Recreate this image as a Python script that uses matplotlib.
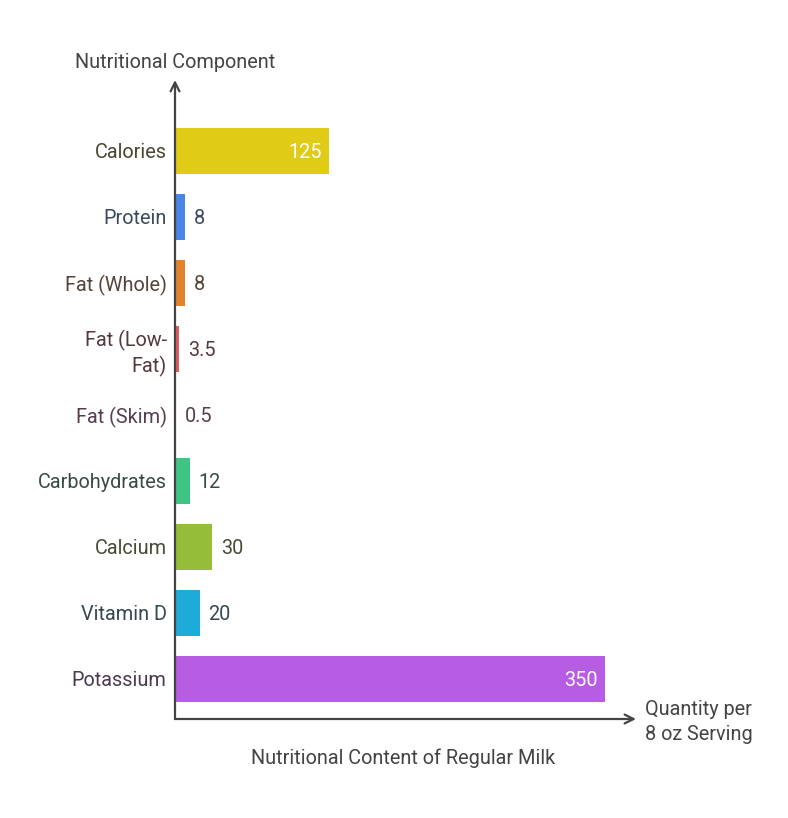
import numpy as np
import matplotlib.pyplot as plt

plt.rcParams['font.family'] = ['Roboto', 'DejaVu Sans']

categories = ['Calories', 'Protein', 'Fat (Whole)', 'Fat (Low-\nFat)', 'Fat (Skim)',
              'Carbohydrates', 'Calcium', 'Vitamin D', 'Potassium']
values = [125, 8, 8, 3.5, 0.5, 12, 30, 20, 350]
value_labels = ['125', '8', '8', '3.5', '0.5', '12', '30', '20', '350']
bar_colors = ['#e0cb16', '#4a86e8', '#e0852e', '#e05c5c', '#b06bd0',
              '#3ec583', '#95bd3a', '#1fabd9', '#b75de3']
text_colors = ['#4a4630', '#3a4a60', '#54443a', '#56393c', '#553f4e',
               '#3a4a44', '#484a3a', '#36474f', '#4a3a52']

W, H = 788, 818
fig = plt.figure(figsize=(W / 100, H / 100), dpi=100)
x0, x1, ytop, ybot = 175, 636, 80, 719
ax = fig.add_axes([x0 / W, 1 - ybot / H, (x1 - x0) / W, (ybot - ytop) / H])

px_per_unit = 430 / 350
row = 66
first = 151
ax.set_xlim(0, (x1 - x0) / px_per_unit)
ax.set_ylim((ybot - first) / row, (ytop - first) / row)

fs = 14.3
ypos = np.arange(len(categories))
ax.barh(ypos, values, height=0.7, color=bar_colors, zorder=2)

ax.set_yticks(ypos)
ax.set_yticklabels(categories, fontsize=fs, linespacing=1.25)
for lab, c in zip(ax.get_yticklabels(), text_colors):
    lab.set_color(c)
ax.tick_params(axis='y', length=0, pad=6)
ax.set_xticks([])
for s in ax.spines.values():
    s.set_visible(False)

for y, v, lbl, c in zip(ypos, values, value_labels, text_colors):
    if v > 100:
        ax.annotate(lbl, (v, y), xytext=(-5, 0), textcoords='offset points',
                    ha='right', va='center_baseline', fontsize=fs, color='white')
    else:
        ax.annotate(lbl, (v, y), xytext=(6.5, 0), textcoords='offset points',
                    ha='left', va='center_baseline', fontsize=fs, color=c)

axis_col = '#444444'
arrow = dict(arrowstyle='->', lw=1.6, color=axis_col, mutation_scale=16,
             shrinkA=0, shrinkB=0)
ax.annotate('', xy=(1, 0), xytext=(0, 0), xycoords='axes fraction', arrowprops=arrow)
ax.annotate('', xy=(0, 1), xytext=(0, 0), xycoords='axes fraction', arrowprops=arrow)

fig.text(175 / W, 1 - 62 / H, 'Nutritional Component', ha='center', va='center',
         fontsize=fs, color='#444444')
fig.text(645 / W, 1 - 722 / H, 'Quantity per\n8 oz Serving', ha='left', va='center',
         fontsize=fs, color='#444444', linespacing=1.35)
fig.text(403 / W, 1 - 758 / H, 'Nutritional Content of Regular Milk', ha='center',
         va='center', fontsize=fs, color='#444444')

fig.savefig('out.png', dpi=100)
